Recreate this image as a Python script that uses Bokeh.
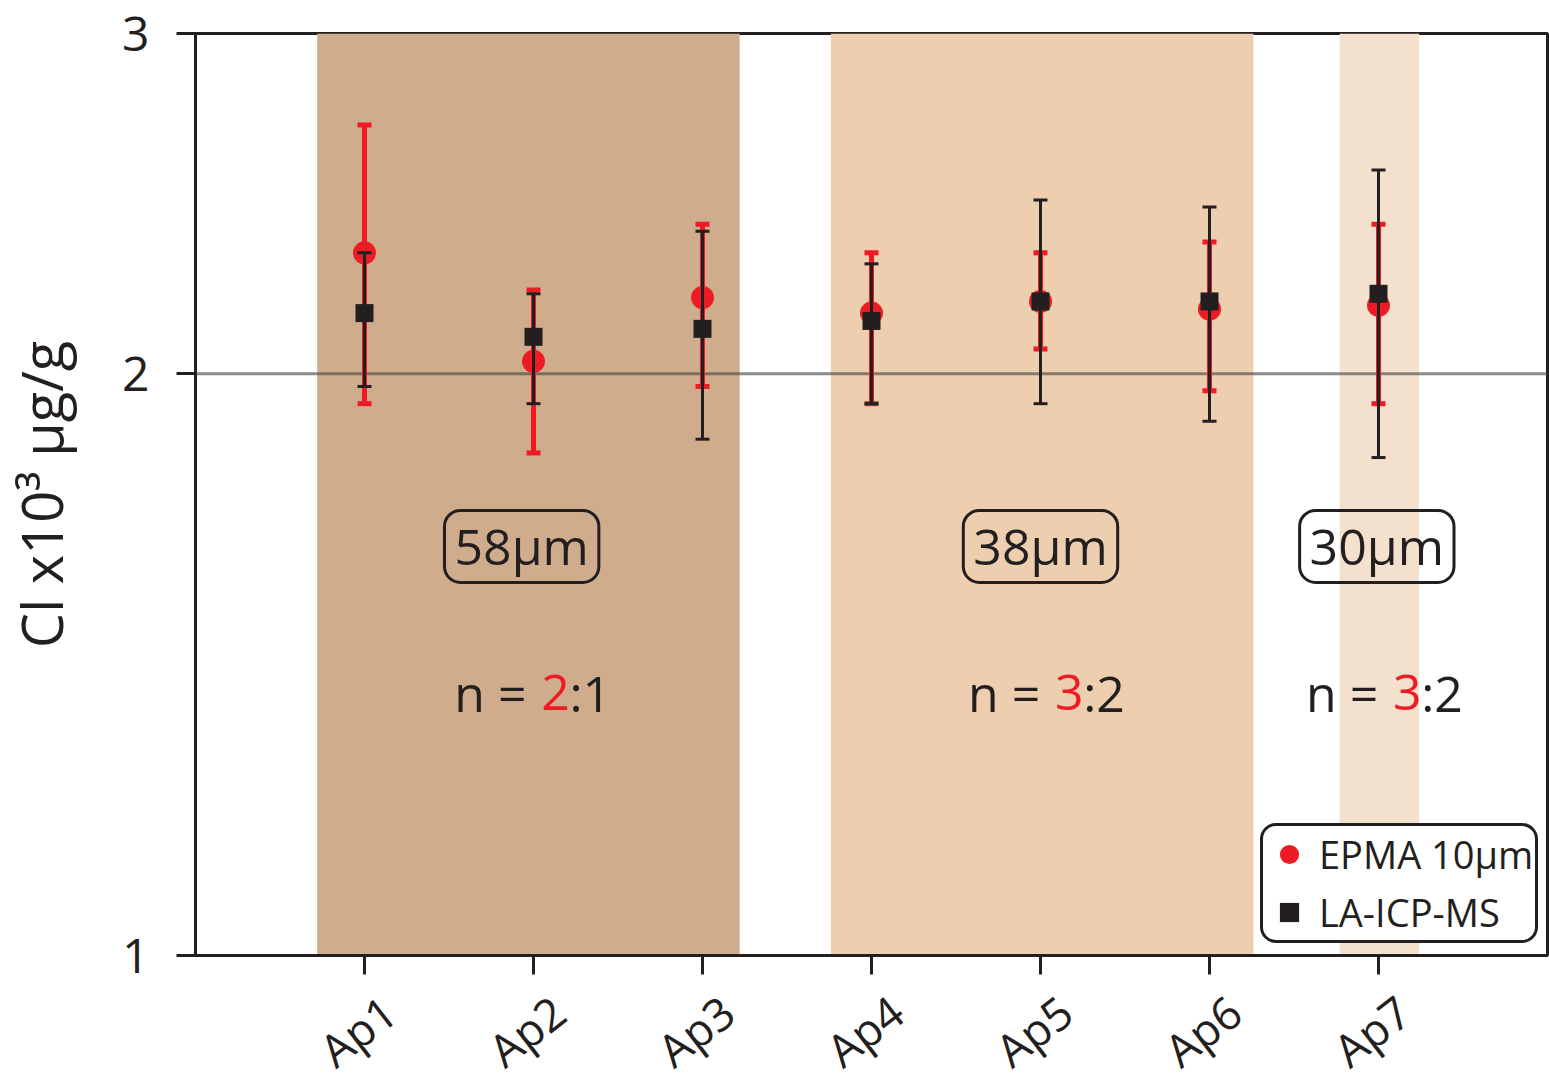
from bokeh.plotting import figure
from bokeh.models import (Range1d, FixedTicker, Span, Label, Legend, LegendItem,
                          BasicTickFormatter, LinearAxis)
from bokeh.embed import file_html
from bokeh.resources import INLINE

# ---------------- data ----------------
samples = ["Ap1", "Ap2", "Ap3", "Ap4", "Ap5", "Ap6", "Ap7"]
x_pos = [1, 2, 3, 4, 5, 6, 7]

epma_mean = [2.31, 2.03, 2.19, 2.15, 2.18, 2.16, 2.17]
epma_upper = [2.69, 2.21, 2.39, 2.31, 2.31, 2.34, 2.39]
epma_lower = [1.93, 1.82, 1.97, 1.93, 2.06, 1.96, 1.93]

la_mean = [2.15, 2.09, 2.11, 2.13, 2.18, 2.18, 2.20]
la_upper = [2.31, 2.20, 2.37, 2.28, 2.46, 2.44, 2.55]
la_lower = [1.97, 1.93, 1.85, 1.93, 1.93, 1.89, 1.81]

y_ticks = [1, 2, 3]
y_tick_labels = ["1", "2", "3"]
reference_value = 2

spot_sizes = ["58μm", "38μm", "30μm"]
n_epma = ["2", "3", "3"]
n_la = ["1", "2", "2"]
region_left = [0.72, 3.76, 6.77]
region_right = [3.22, 6.26, 7.24]
spot_label_x = [1.93, 5.0, 6.99]
n_label_x = [2.13, 5.17, 7.17]

# ---------------- style ----------------
RED = "#ED1C24"
BLACK = "#231F20"
REGION_COLORS = ["#CFAD8C", "#EDCEAF", "#F4E1CD"]
FONT = "Open Sans"
X_START, X_END = 0, 8
LABEL_SHIFT = 0.15   # rotated tick texts are centred on their ticks

p = figure(frame_width=1352, frame_height=922,
           min_border_left=195, min_border_right=2, min_border_top=33, min_border_bottom=124,
           x_range=Range1d(X_START, X_END), y_range=Range1d(1, 3), y_axis_type="log",
           output_backend="svg", toolbar_location=None)
p.background_fill_color = "white"
p.border_fill_color = "white"
p.outline_line_color = BLACK
p.outline_line_width = 3
p.xgrid.visible = False
p.ygrid.visible = False

# shaded regions
p.quad(left=region_left, right=region_right, bottom=1, top=3,
       fill_color=REGION_COLORS, line_color=None, level="image")

# reference line
p.add_layout(Span(location=reference_value, dimension="width", line_color="#4d4d4d",
                  line_alpha=0.65, line_width=3, level="underlay"))

# EPMA error bars + points
p.segment(x0=x_pos, y0=epma_lower, x1=x_pos, y1=epma_upper, line_color=RED, line_width=5)
p.scatter(x_pos, epma_upper, marker="dash", size=14, line_color=RED, line_width=5)
p.scatter(x_pos, epma_lower, marker="dash", size=14, line_color=RED, line_width=5)
r_epma = p.scatter(x_pos, epma_mean, marker="circle", size=23,
                   fill_color=RED, line_color=None)

# LA-ICP-MS error bars + points
p.segment(x0=x_pos, y0=la_lower, x1=x_pos, y1=la_upper, line_color=BLACK, line_width=3)
p.scatter(x_pos, la_upper, marker="dash", size=14, line_color=BLACK, line_width=3)
p.scatter(x_pos, la_lower, marker="dash", size=14, line_color=BLACK, line_width=3)
r_la = p.scatter(x_pos, la_mean, marker="square", size=18,
                 fill_color=BLACK, line_color=None)

# axes
for ax in (p.xaxis[0], p.yaxis[0]):
    ax.axis_line_color = BLACK
    ax.axis_line_width = 3
    ax.major_tick_line_color = BLACK
    ax.major_tick_line_width = 3
    ax.major_tick_in = 0
    ax.major_tick_out = 19
    ax.minor_tick_line_color = None
    ax.major_label_text_font = FONT
    ax.major_label_text_color = BLACK

# main x axis: ticks only
xa = p.xaxis[0]
xa.ticker = FixedTicker(ticks=x_pos)
xa.major_label_text_color = None
xa.major_label_text_font_size = "1px"
xa.major_label_standoff = 0

# label axis on a slightly shifted range so the rotated texts sit centred on the ticks
p.extra_x_ranges = {"labels": Range1d(X_START - LABEL_SHIFT, X_END - LABEL_SHIFT)}
la_axis = LinearAxis(x_range_name="labels", ticker=FixedTicker(ticks=x_pos),
                     major_label_overrides={x: s for x, s in zip(x_pos, samples)},
                     major_label_orientation=0.66,
                     major_label_text_font=FONT, major_label_text_font_size="45px",
                     major_label_text_color=BLACK, major_label_standoff=31,
                     axis_line_color=None, major_tick_line_color=None,
                     minor_tick_line_color=None, major_tick_in=0, major_tick_out=0)
p.add_layout(la_axis, "below")

p.yaxis.ticker = FixedTicker(ticks=y_ticks)
p.yaxis.formatter = BasicTickFormatter()
p.yaxis.major_label_overrides = {t: s for t, s in zip(y_ticks, y_tick_labels)}
p.yaxis.major_label_text_font_size = "48px"
p.yaxis.major_label_standoff = 27
p.yaxis.axis_label = "Cl x10³ μg/g"
p.yaxis.axis_label_text_font = FONT
p.yaxis.axis_label_text_font_size = "56px"
p.yaxis.axis_label_text_font_style = "normal"
p.yaxis.axis_label_text_color = BLACK
p.yaxis.axis_label_standoff = 40

label_props = Label.properties()

# spot-size boxed labels and n labels
for i in range(3):
    lbl = Label(x=spot_label_x[i], y=1.628, text=spot_sizes[i], text_font=FONT,
                text_font_size="50px", text_color=BLACK, text_align="center",
                text_baseline="middle", border_line_color=BLACK, border_line_width=3,
                background_fill_color=None)
    if "padding" in label_props:
        try:
            lbl.padding = {"left": 10, "right": 10, "top": 2, "bottom": 2}
        except Exception:
            lbl.padding = 4
    if "border_radius" in label_props:
        lbl.border_radius = 16
    p.add_layout(lbl)

    common = dict(y=1.368, x=n_label_x[i], text_font=FONT, text_font_size="50px",
                  text_baseline="middle")
    p.add_layout(Label(text="n =", text_align="right", x_offset=-29,
                       text_color=BLACK, **common))
    p.add_layout(Label(text=n_epma[i], text_align="center", x_offset=0,
                       text_color=RED, **common))
    p.add_layout(Label(text=":" + n_la[i], text_align="left", x_offset=14,
                       text_color=BLACK, **common))

# legend
legend = Legend(items=[LegendItem(label="EPMA 10μm", renderers=[r_epma]),
                       LegendItem(label="LA-ICP-MS", renderers=[r_la])],
                location=(1065, 12), margin=0, padding=2, spacing=6,
                glyph_width=48, glyph_height=50, label_standoff=6,
                label_text_font=FONT, label_text_font_size="38px",
                label_text_color=BLACK, border_line_color=BLACK, border_line_width=3,
                border_line_alpha=1.0,
                background_fill_color="white", background_fill_alpha=1.0)
if "border_radius" in Legend.properties():
    legend.border_radius = 16
p.add_layout(legend)

open("out.html", "w").write(file_html(p, INLINE))
